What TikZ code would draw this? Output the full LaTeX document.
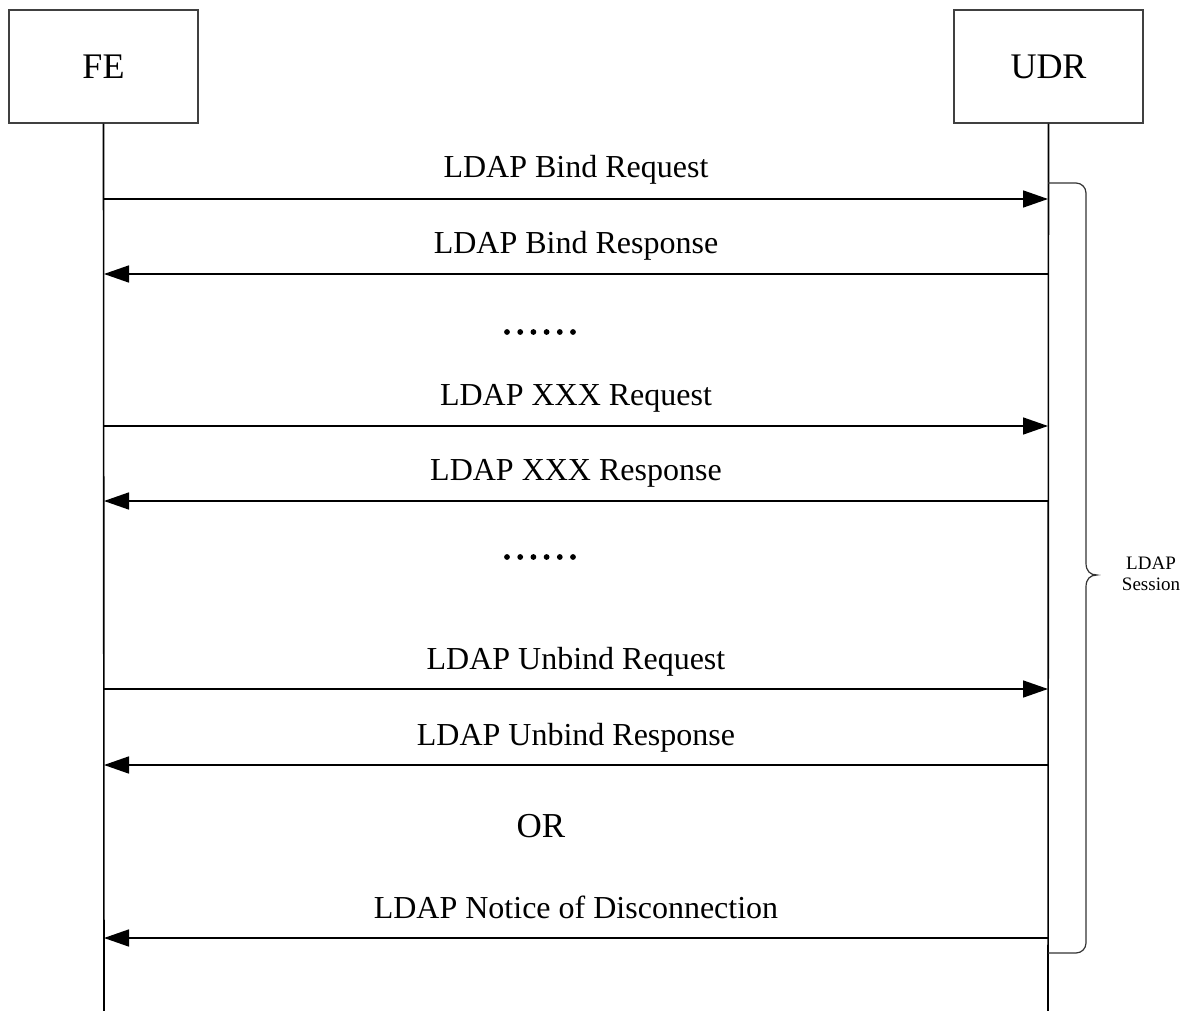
\documentclass[tikz,border=0pt]{standalone}
\usepackage{fontspec}
\setmainfont{Liberation Serif}
\usetikzlibrary{arrows.meta}
\begin{document}
\begin{tikzpicture}[x=1pt,y=-1pt,
  actor/.style={draw=black!75,line width=1.1pt,minimum width=189pt,minimum height=113pt,inner sep=0pt,font=\fontsize{36}{40}\selectfont},
  life/.style={line width=1.6pt},
  msg/.style={line width=1.6pt,-{Triangle[length=25pt,width=17pt]}},
  lbl/.style={font=\fontsize{32}{36}\selectfont,anchor=base},
  dot/.style={circle,fill=black,inner sep=0pt,minimum size=5.8pt}
]
\useasboundingbox (0,0) rectangle (1186,1011);
% actors
\node[actor] (fe) at (103.5,66.5) {FE};
\node[actor] (udr) at (1048.5,66.5) {UDR};
\coordinate (feend) at (104,1011);
\coordinate (udrend) at (1048,1011);
\draw[life] (fe.south) -- (feend);
\draw[life] (udr.south) -- (udrend);
% message end points
\foreach \n/\y in {1/199,2/274,3/426,4/501,5/689,6/765,7/938}{
  \coordinate (f\n) at (104,\y);
  \coordinate (u\n) at (1048,\y);
}
\draw[msg] (f1) -- (u1);
\draw[msg] (u2) -- (f2);
\draw[msg] (f3) -- (u3);
\draw[msg] (u4) -- (f4);
\draw[msg] (f5) -- (u5);
\draw[msg] (u6) -- (f6);
\draw[msg] (u7) -- (f7);
% labels
\node[lbl] (l1) at (576,178) {LDAP Bind Request};
\node[lbl] (l2) at (576,253) {LDAP Bind Response};
\node[lbl] (l3) at (576,405) {LDAP XXX Request};
\node[lbl] (l4) at (576,480) {LDAP XXX Response};
\node[lbl] (l5) at (576,669) {LDAP Unbind Request};
\node[lbl] (l6) at (576,745) {LDAP Unbind Response};
\node[lbl] (l7) at (576,918) {LDAP Notice of Disconnection};
\node[font=\fontsize{35}{40}\selectfont,anchor=base] (or) at (541,837) {OR};
% dots
\foreach \i in {0,...,5}{
  \node[dot] (da\i) at (507+13.2*\i,332) {};
  \node[dot] (db\i) at (507+13.2*\i,557) {};
}
% brace
\coordinate (btop) at (1048,183);
\coordinate (bbot) at (1048,953);
\draw[line width=1.2pt,black!80] (btop) -- (1076,183) arc[start angle=-90,end angle=0,radius=10] -- (1086,563)
  .. controls (1086,571) and (1090,575) .. (1097,575)
  .. controls (1090,575) and (1086,579) .. (1086,587)
  -- (1086,943) arc[start angle=0,end angle=90,radius=10] -- (bbot);
\node[font=\fontsize{19}{20.5}\selectfont,align=center] (sess) at (1151,574) {LDAP\\Session};
\end{tikzpicture}
\end{document}
